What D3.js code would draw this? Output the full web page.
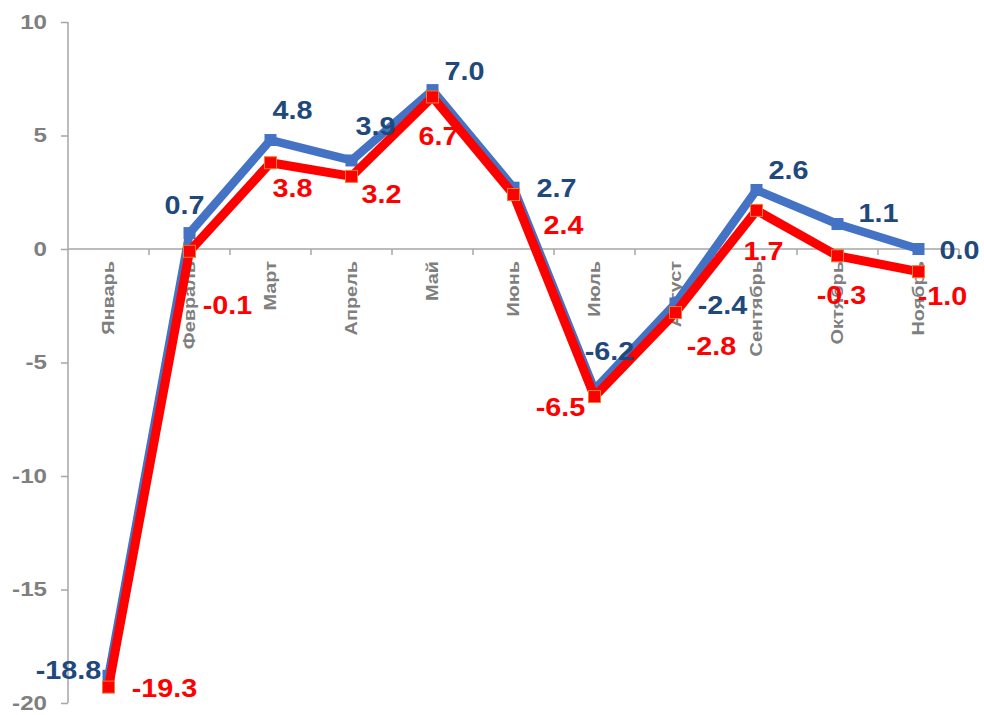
<!DOCTYPE html>
<html>
<head>
<meta charset="utf-8">
<script src="https://cdn.jsdelivr.net/npm/d3@7"></script>
<style>
  html, body { margin: 0; padding: 0; background: #fff; }
  svg { display: block; font-family: Arial, "Liberation Sans", sans-serif; }
</style>
</head>
<body>
<svg id="chart" width="984" height="715"></svg>
<script>
const months = ["Январь","Февраль","Март","Апрель","Май","Июнь","Июль","Август","Сентябрь","Октябрь","Ноябрь"];
const blueValues = [-18.8, 0.7, 4.8, 3.9, 7.0, 2.7, -6.2, -2.4, 2.6, 1.1, 0.0];
const redValues  = [-19.3, -0.1, 3.8, 3.2, 6.7, 2.4, -6.5, -2.8, 1.7, -0.3, -1.0];
const yTicks = [10, 5, 0, -5, -10, -15, -20];

// label placement offsets (style only)
const blueLabelOffsets = [[-40,-5],[-5,-27],[22,-29],[24,-34],[32,-18],[43,1],[15,-38],[47,2],[32,-19],[41,-10],[41,2]];
const redLabelOffsets  = [[56,2],[38,54],[22,26],[30,18],[6,40],[50,31],[-34,11],[36,34],[7,41],[4,40],[24,25]];

const svg = d3.select("#chart");
const x = d3.scaleBand().domain(months).range([68, 959]).paddingInner(0).paddingOuter(0);
const y = d3.scaleLinear().domain([-20, 10]).range([703, 22]);
const cx = m => x(m) + x.bandwidth() / 2;

const axisColor = "#A6A6A6";
const tickTextColor = "#7F7F7F";

// Y axis
const yAxis = d3.axisLeft(y).tickValues(yTicks).tickSize(7).tickFormat("");
const gy = svg.append("g").attr("transform", "translate(68,0)").call(yAxis);
gy.selectAll("path,line").attr("stroke", axisColor).attr("stroke-width", 1.5);
gy.select("path").attr("d", `M0,${y(10)}V${y(-20)}`);
gy.selectAll(".tick line").attr("x2", -7);

svg.append("g").selectAll("text").data(yTicks).join("text")
  .attr("transform", d => `translate(47,${y(d)}) scale(1.15,1)`)
  .attr("text-anchor", "end")
  .attr("dominant-baseline", "central")
  .attr("font-size", 21).attr("font-weight", "bold")
  .attr("fill", tickTextColor)
  .text(d => d);

// X axis at zero
const xAxis = d3.axisBottom(x).tickSize(0).tickFormat("");
const gx = svg.append("g").attr("transform", `translate(0,${y(0)})`).call(xAxis);
gx.select("path").attr("stroke", axisColor).attr("stroke-width", 1.5).attr("d", `M68,0H959`);
const bounds = months.map(m => x(m)).concat([x(months[months.length-1]) + x.bandwidth()]);
gx.selectAll("line.bt").data(bounds.slice(1)).join("line").attr("class","bt")
  .attr("x1", d => d).attr("x2", d => d).attr("y1", 0).attr("y2", 6)
  .attr("stroke", axisColor).attr("stroke-width", 1.5);

svg.append("g").selectAll("text").data(months).join("text")
  .attr("transform", d => `translate(${cx(d)},${y(0) + 12}) rotate(-90) scale(1.17,1)`)
  .attr("text-anchor", "end")
  .attr("dominant-baseline", "central")
  .attr("font-size", 17).attr("font-weight", "bold")
  .attr("fill", tickTextColor)
  .text(d => d);

// Lines
const line = d3.line().x(d => cx(d.m)).y(d => y(d.v));
const blueData = months.map((m, i) => ({m, v: blueValues[i]}));
const redData = months.map((m, i) => ({m, v: redValues[i]}));

svg.append("path").datum(blueData).attr("d", line)
  .attr("fill", "none").attr("stroke", "#4472C4").attr("stroke-width", 8.5)
  .attr("stroke-linejoin", "round");
svg.append("g").selectAll("rect").data(blueData).join("rect")
  .attr("x", d => cx(d.m) - 6).attr("y", d => y(d.v) - 6)
  .attr("width", 12).attr("height", 12).attr("fill", "#4472C4");

svg.append("path").datum(redData).attr("d", line)
  .attr("fill", "none").attr("stroke", "#FF0000").attr("stroke-width", 9)
  .attr("stroke-linejoin", "round");
svg.append("g").selectAll("rect").data(redData).join("rect")
  .attr("x", d => cx(d.m) - 6).attr("y", d => y(d.v) - 6)
  .attr("width", 12).attr("height", 12).attr("fill", "#FF0000")
  .attr("stroke", "#ED7D31").attr("stroke-width", 1);

// Data labels
function labels(data, offsets, color) {
  svg.append("g").selectAll("text").data(data).join("text")
    .attr("transform", (d, i) => `translate(${cx(d.m) + offsets[i][0]},${y(d.v) + offsets[i][1]}) scale(1.15,1)`)
    .attr("text-anchor", "middle")
    .attr("dominant-baseline", "central")
    .attr("font-size", 25).attr("font-weight", "bold")
    .attr("fill", color)
    .text(d => d.v.toFixed(1));
}
labels(blueData, blueLabelOffsets, "#1F497D");
labels(redData, redLabelOffsets, "#FF0000");
</script>
</body>
</html>
